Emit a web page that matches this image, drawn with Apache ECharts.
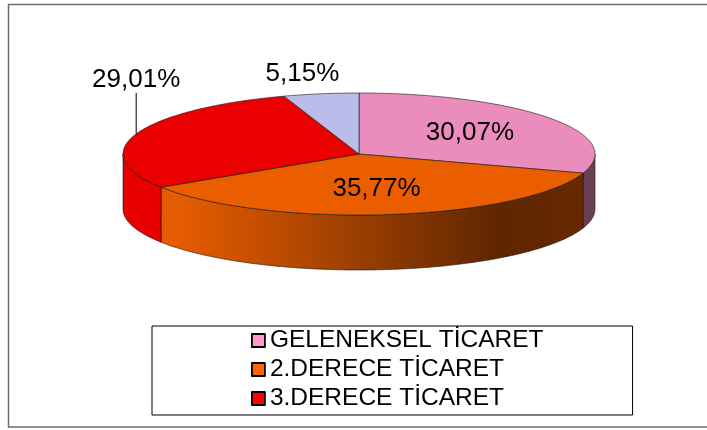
<!DOCTYPE html>
<html>
<head>
<meta charset="utf-8">
<script src="https://cdn.jsdelivr.net/npm/echarts@6/dist/echarts.min.js"></script>
<style>
  html, body { margin: 0; padding: 0; background: #fff; }
  #chart { width: 707px; height: 430px; }
</style>
</head>
<body>
<div id="chart"></div>
<script>
// Slice names and their percentage shares (clockwise from 12 o'clock)
const categories = ['GELENEKSEL TİCARET', '2.DERECE TİCARET', '3.DERECE TİCARET', 'DİĞER'];
const shares = [30.07, 35.77, 29.01, 5.15];
// Entries listed in the legend box
const legendNames = ['GELENEKSEL TİCARET', '2.DERECE TİCARET', '3.DERECE TİCARET'];
// Base fill of each slice
const baseColors = ['#FF99CC', '#FF6600', '#FF0000', '#CCCCFF'];
// How each value label is placed
const labelModes = ['inside', 'inside', 'leader', 'outside'];

// Geometry of the tilted disc
const PIE = { cx: 359, cy: 154, rx: 236, ry: 61, depth: 55 };
const FONT = '"Liberation Sans", Arial, sans-serif';

function shade(hex, f) {
  const n = parseInt(hex.slice(1), 16);
  const r = Math.round(((n >> 16) & 255) * f);
  const g = Math.round(((n >> 8) & 255) * f);
  const b = Math.round((n & 255) * f);
  return 'rgb(' + r + ',' + g + ',' + b + ')';
}

const total = shares.reduce((a, b) => a + b, 0);
const starts = [];
(function () { let acc = 0; shares.forEach(v => { starts.push(acc); acc += v; }); })();

const ang = frac => -Math.PI / 2 + frac * 2 * Math.PI;
const pt = (t, dy) => [PIE.cx + PIE.rx * Math.cos(t), PIE.cy + PIE.ry * Math.sin(t) + (dy || 0)];
function arc(t0, t1, dy) {
  const n = Math.max(2, Math.ceil(Math.abs(t1 - t0) / 0.01));
  const pts = [];
  for (let k = 0; k <= n; k++) pts.push(pt(t0 + (t1 - t0) * k / n, dy));
  return pts;
}
const fmt = v => v.toFixed(2).replace('.', ',') + '%';

function renderItem(params, api) {
  const i = params.dataIndex;
  const v = api.value(0);
  const t0 = ang(starts[i] / total);
  const t1 = ang((starts[i] + v) / total);
  const base = baseColors[i];
  const edge = 'rgba(20,20,20,0.75)';
  const children = [];

  // outer rim: only the front half (0..π) faces the viewer
  const w0 = Math.max(t0, 0), w1 = Math.min(t1, Math.PI);
  if (w1 > w0) {
    const pts = arc(w0, w1, 0).concat(arc(w1, w0, PIE.depth));
    children.push({
      type: 'polygon', z2: 1,
      shape: { points: pts },
      style: {
        fill: {
          type: 'linear', global: true,
          x: PIE.cx - PIE.rx, y: 0, x2: PIE.cx + PIE.rx, y2: 0,
          colorStops: [
            { offset: 0, color: shade(base, 0.9) },
            { offset: 0.12, color: shade(base, 0.9) },
            { offset: 0.8, color: shade(base, 0.37) },
            { offset: 1, color: shade(base, 0.41) }
          ]
        },
        stroke: edge, lineWidth: 0.8, lineJoin: 'round'
      }
    });
  }

  // top face
  children.push({
    type: 'polygon', z2: 5,
    shape: { points: [[PIE.cx, PIE.cy]].concat(arc(t0, t1, 0)) },
    style: { fill: shade(base, 0.92), stroke: edge, lineWidth: 0.8, lineJoin: 'round' }
  });

  // value label
  const tm = (t0 + t1) / 2;
  const txt = { text: fmt(v), font: '26px ' + FONT, fill: '#000', align: 'center', verticalAlign: 'middle' };
  const mode = labelModes[i];
  if (mode === 'inside') {
    const r = 0.58;
    txt.x = PIE.cx + PIE.rx * r * Math.cos(tm);
    txt.y = PIE.cy + PIE.ry * r * Math.sin(tm);
  } else if (mode === 'outside') {
    const r = 1.33;
    txt.x = PIE.cx + PIE.rx * r * Math.cos(tm) - 6;
    txt.y = PIE.cy + PIE.ry * r * Math.sin(tm);
  } else {
    const p = pt(tm, 0);
    const top = p[1] - 41;
    children.push({
      type: 'line', z2: 6,
      shape: { x1: p[0], y1: p[1], x2: p[0], y2: top },
      style: { stroke: '#000', lineWidth: 1 }
    });
    txt.x = p[0];
    txt.y = top;
    txt.verticalAlign = 'bottom';
  }
  children.push({ type: 'text', z2: 10, style: txt });

  return { type: 'group', children: children };
}

const chart = echarts.init(document.getElementById('chart'), null, { renderer: 'canvas' });
chart.setOption({
  backgroundColor: '#fff',
  animation: false,
  graphic: [{
    type: 'rect', z: -1,
    shape: { x: 8.5, y: 4.5, width: 720, height: 422.5 },
    style: { fill: 'none', stroke: '#6b6b6b', lineWidth: 1.5 }
  }],
  legend: {
    data: legendNames,
    orient: 'vertical',
    left: 152, top: 326,
    padding: [2, 89, 4, 99],
    borderColor: '#000', borderWidth: 1,
    backgroundColor: '#fff',
    itemWidth: 13, itemHeight: 13, itemGap: 4,
    icon: 'rect',
    selectedMode: false,
    itemStyle: { borderColor: '#000', borderWidth: 1.8 },
    textStyle: { fontFamily: FONT, fontSize: 24.5, lineHeight: 24, color: '#000' }
  },
  series: [
    {
      type: 'custom',
      name: 'pay',
      coordinateSystem: 'none',
      renderItem: renderItem,
      data: shares.map((v, i) => ({ name: categories[i], value: [v] })),
      silent: true
    },
    {
      // carries the slice colours for the legend entries
      type: 'pie',
      radius: 0,
      center: [-50, -50],
      silent: true,
      label: { show: false },
      labelLine: { show: false },
      data: shares.map((v, i) => ({ name: categories[i], value: v, itemStyle: { color: baseColors[i] } }))
    }
  ]
});
</script>
</body>
</html>
